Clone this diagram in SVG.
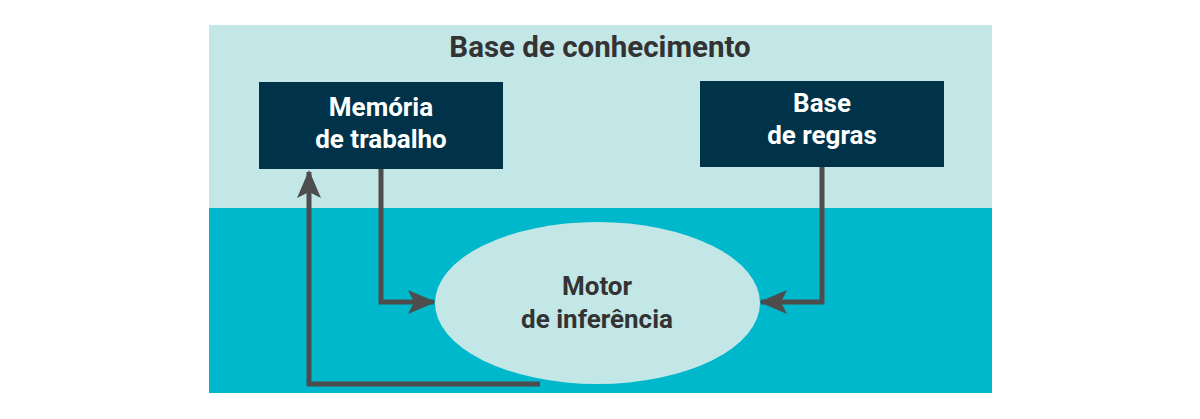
<svg xmlns="http://www.w3.org/2000/svg" width="1200" height="419" viewBox="0 0 1200 419">
<style>
.t{font-family:Roboto,"Liberation Sans",sans-serif;font-weight:bold;text-anchor:middle}
.w{fill:#ffffff;font-size:26px}
.d{fill:#333333;font-size:26px}
.h{fill:#333333;font-size:29.5px}
.c{fill:none;stroke:#4d4d4d;stroke-width:5}
</style>
<defs>
<marker id="ah" viewBox="0 0 28 24" refX="26" refY="12" markerWidth="28" markerHeight="24" markerUnits="userSpaceOnUse" orient="auto">
<path d="M0,0 L28,12 L0,24 L6,12 Z" fill="#4d4d4d"/>
</marker>
</defs>
<rect width="1200" height="419" fill="#ffffff"/>
<g id="kb">
<rect x="209" y="25" width="783" height="183" fill="#c3e7e7"/>
<rect x="209" y="208" width="783" height="185" fill="#00b8cc"/>
<text class="t h" x="600" y="57">Base de conhecimento</text>
</g>
<g id="connectors">
<polyline class="c" points="540,384 309,384 309,172" marker-end="url(#ah)"/>
<polyline class="c" points="381,169 381,302 434,302" marker-end="url(#ah)"/>
<polyline class="c" points="822,167 822,302 761,302" marker-end="url(#ah)"/>
</g>
<g id="motor">
<ellipse cx="597.5" cy="303" rx="162.5" ry="81" fill="#c3e7e7"/>
<text class="t d" x="597" y="295">Motor</text>
<text class="t d" x="597" y="328">de inferência</text>
</g>
<g id="memoria">
<rect x="259" y="82" width="244" height="87" fill="#003349"/>
<text class="t w" x="381" y="116">Memória</text>
<text class="t w" x="381" y="148">de trabalho</text>
</g>
<g id="regras">
<rect x="700" y="81" width="244" height="86" fill="#003349"/>
<text class="t w" x="822" y="112">Base</text>
<text class="t w" x="822" y="144">de regras</text>
</g>
</svg>
